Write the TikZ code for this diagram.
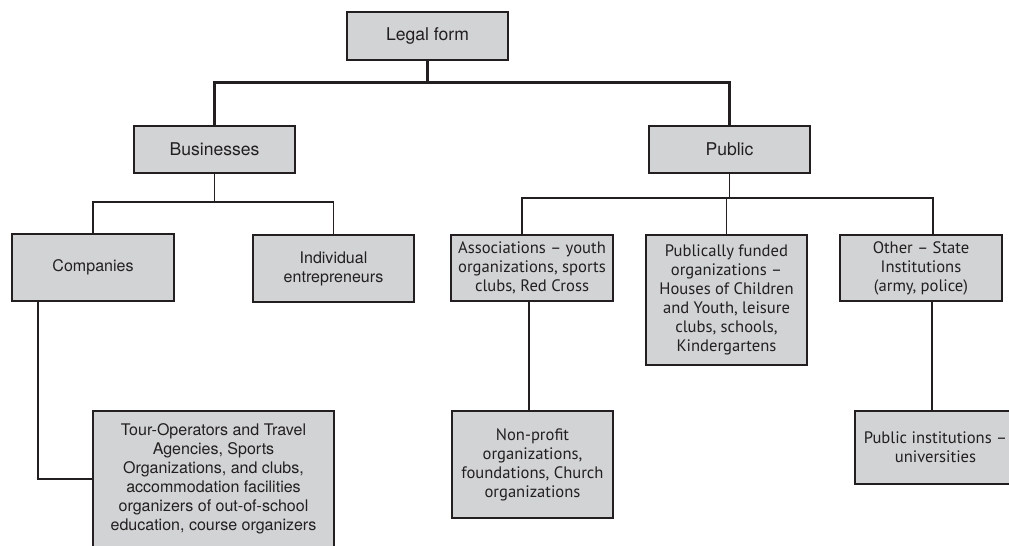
\documentclass[tikz,border=0pt]{standalone}
\usepackage{fontspec}
\setmainfont{TeX Gyre Heros}
\newfontfamily\myriad[Ligatures=TeX]{PT Sans}
\usepackage{tikz}
\usepackage{xcolor}
\definecolor{boxgray}{HTML}{D1D3D4}
\definecolor{inkdark}{HTML}{231F20}

\begin{document}
\begin{tikzpicture}[x=0.025cm,y=-0.025cm,
    box/.style={draw=inkdark,fill=boxgray,line width=1.3pt,text=inkdark,
      align=center,inner sep=0pt,font=\fontsize{11.4}{13.5}\selectfont},
    headbox/.style={box,font=\fontsize{12.5}{14}\selectfont},
    hum/.style={box,font=\myriad\fontsize{11.8}{13.5}\selectfont},
    trunk/.style={draw=inkdark,line width=2.2pt},
    branch/.style={draw=inkdark,line width=0.9pt}]
  % Rahmen (1 Einheit = 1 px der Vorlage)
  \useasboundingbox (0,0) rectangle (1009,546);
  \clip (0,0) rectangle (1009,546);
  % Ebene 0 und 1
  \node[headbox,minimum width=4.025cm,minimum height=1.2cm] (root) at (427.5,36) {Legal form};
  \node[headbox,minimum width=4.025cm,minimum height=1.175cm] (bus) at (214.5,149.5) {Businesses};
  \node[headbox,minimum width=4.025cm,minimum height=1.175cm] (pub) at (729.5,149.5) {Public};
  % Ebene 2
  \node[box,minimum width=4.05cm,minimum height=1.675cm] (comp) at (93,267.5) {Companies};
  \node[box,minimum width=4.025cm,minimum height=1.675cm] (indiv) at (333.5,268.5) {Individual\\entrepreneurs};
  \node[hum,minimum width=4.05cm,minimum height=1.65cm] (assoc) at (532,268) {Associations – youth\\organizations, sports\\clubs, Red Cross};
  \node[hum,minimum width=4.025cm,minimum height=3.25cm] (funded) at (726.5,300) {Publically funded\\organizations –\\Houses of Children\\and Youth, leisure\\clubs, schools,\\Kindergartens};
  \node[hum,minimum width=4.05cm,minimum height=1.65cm] (other) at (921,268) {Other – State\\Institutions\\(army, police)};
  % Ebene 3
  \node[box,minimum width=6.025cm,minimum height=3.4cm] (tour) at (213.5,479) {Tour-Operators and Travel\\Agencies, Sports\\Organizations, and clubs,\\accommodation facilities\\organizers of out-of-school\\education, course organizers};
  \node[hum,minimum width=4.025cm,minimum height=2.675cm] (nonprof) at (532.5,464.5) {Non-profit\\organizations,\\foundations, Church\\organizations};
  \node[hum,minimum width=4.025cm,minimum height=1.825cm] (pubinst) at (935.5,447.5) {Public institutions –\\universities};
  % Hauptaeste
  \draw[trunk] (root.south) -- ++(0,22) -| (bus.north);
  \draw[trunk] (root.south) -- ++(0,22) -| (pub.north);
  % Unternehmen
  \draw[branch] (bus.south) -- ++(0,28) -| (comp.north);
  \draw[branch] (bus.south) -- ++(0,28) -| (indiv.north);
  \draw[branch] ([xshift=-1.375cm]comp.south) |- (tour.west);
  % Oeffentlich
  \draw[branch] (pub.south) -- ++(0,24) -| ([xshift=-0.25cm]assoc.north);
  \draw[branch] (pub.south) -- ++(0,24) -| (funded.north);
  \draw[branch] (pub.south) -- ++(0,24) -| ([xshift=0.3cm]other.north);
  \draw[branch] ([xshift=-0.075cm]assoc.south) -- ([xshift=-0.075cm]assoc.south |- nonprof.north);
  \draw[branch] ([xshift=0.275cm]other.south) -- ([xshift=0.275cm]other.south |- pubinst.north);
\end{tikzpicture}
\end{document}
